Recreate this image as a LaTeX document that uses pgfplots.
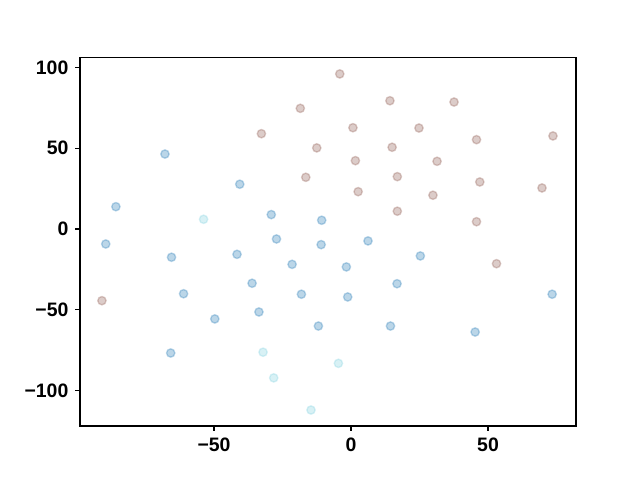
\documentclass[border=0pt]{standalone}
\usepackage{fontspec}
\setmainfont{Liberation Sans}
\usepackage{pgfplots}
\pgfplotsset{compat=1.18}
\definecolor{cbrown}{HTML}{8C564B}
\definecolor{cblue}{HTML}{1F77B4}
\definecolor{ccyan}{HTML}{7FD0DE}
\begin{document}
\fontsize{14}{16}\selectfont\bfseries
\begin{tikzpicture}
\path[use as bounding box] (-57.6pt,-38.88pt) rectangle (403.2pt,306.72pt);
\begin{axis}[
  at={(0,0)}, anchor=south west,
  scale only axis, width=357.1pt, height=265pt,
  xmin=-98.9, xmax=82.1, ymin=-122, ymax=105.9,
  xtick={-50,0,50}, xticklabels={−50,0,50},
  ytick={-100,-50,0,50,100}, yticklabels={−100,−50,0,50,100},
  tick align=outside, major tick length=3.5pt,
  xtick pos=bottom, ytick pos=left,
  axis line style={line width=0.8pt},
  every tick/.style={line width=0.8pt, black},
  tick label style={font=\fontsize{14}{16}\selectfont\bfseries},
  clip=false,
]
\addplot[only marks, mark=*, mark size=3pt, line width=1pt,
  mark options={draw=cbrown, fill=cbrown, fill opacity=0.3, draw opacity=0.3}]
coordinates {
(-4.1,96.0) (-18.5,74.7) (14.2,79.4) (37.6,78.6) (-32.7,59.0) (-12.5,50.2)
(0.7,62.7) (24.8,62.5) (45.8,55.3) (73.7,57.6) (-16.5,32.0) (1.6,42.3)
(15.0,50.6) (31.4,41.9) (16.9,32.4) (2.6,23.1) (47.0,29.1) (69.7,25.4)
(29.9,20.9) (16.9,11.0) (45.8,4.5) (53.1,-21.5) (-90.9,-44.4)
};
\addplot[only marks, mark=*, mark size=3pt, line width=1pt,
  mark options={draw=cblue, fill=cblue, fill opacity=0.3, draw opacity=0.3}]
coordinates {
(-67.9,46.4) (-40.6,27.7) (-85.8,13.8) (-29.1,8.9) (-10.7,5.4) (-89.5,-9.3)
(-27.2,-6.2) (-10.9,-9.7) (6.2,-7.4) (-65.5,-17.5) (-41.6,-15.7) (-21.5,-21.9)
(-1.7,-23.5) (25.3,-16.7) (-36.1,-33.6) (-61.1,-40.1) (-18.1,-40.4) (-1.2,-42.1)
(16.8,-33.9) (73.4,-40.4) (-33.6,-51.4) (-49.7,-55.7) (-11.9,-60.1) (14.4,-60.1)
(45.3,-63.8) (-65.8,-76.8)
};
\addplot[only marks, mark=*, mark size=3pt, line width=1pt,
  mark options={draw=ccyan, fill=ccyan, fill opacity=0.3, draw opacity=0.3}]
coordinates {
(-53.8,6.0) (-32.1,-76.3) (-28.2,-92.2) (-4.6,-83.2) (-14.6,-112.1)
};
\end{axis}
\end{tikzpicture}
\end{document}
